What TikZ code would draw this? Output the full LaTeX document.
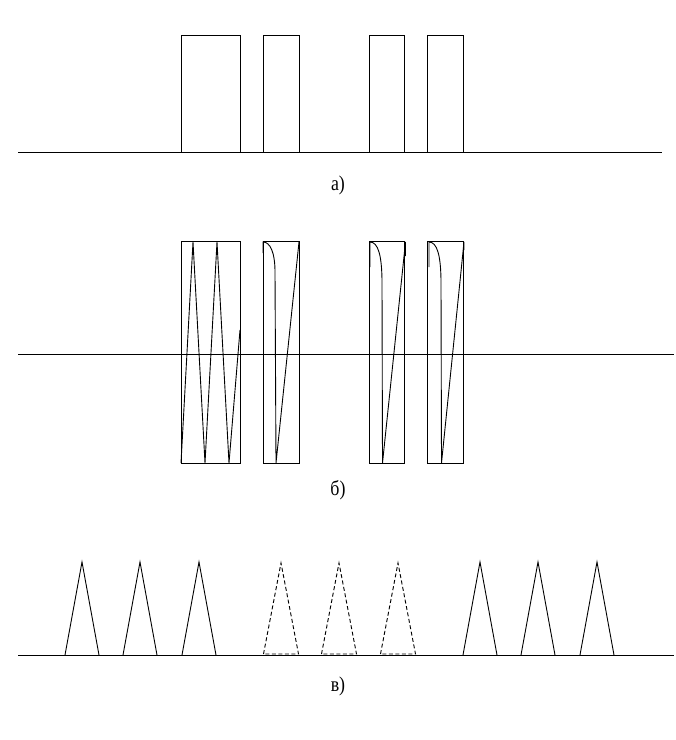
\documentclass[tikz,border=0pt]{standalone}
\usepackage{fontspec}
\newfontfamily\labelfont[FakeStretch=0.85]{Liberation Serif}
\tikzset{
	lbl/.style={font=\labelfont\fontsize{21}{21}\selectfont, inner sep=0pt},
	pulse/.style={line width=0.9pt},
	ghost/.style={line width=0.9pt, dashed, dash pattern=on 4pt off 2.5pt}
}
\begin{document}
\begin{tikzpicture}[x=1pt,y=-1pt,line width=0.9pt]
		\useasboundingbox (0,0) rectangle (676,740);
		\draw (18,152) -- (662,152);
		\foreach \l/\r in {181/240, 263/299, 369/404, 427/463}
			\draw[pulse] (\l,152) rectangle (\r,35);
		\node[lbl] at (338,185) (capa) {а)};
		\draw (18,354) -- (674,354);
		\foreach \l/\r in {181/240, 263/299, 369/404, 427/463}
			\draw[pulse] (\l,463) rectangle (\r,241);
		\draw (181,463) -- (193,242) -- (205,463) -- (217,242) -- (229,463) -- (240,330);
		\draw (263,253) -- (263,242) .. controls (270,242) and (275,252) .. (275,272) -- (276,463) -- (299,242);
		\draw (370,267) -- (370,242) .. controls (378,242) and (382,255) .. (382,283) -- (382.5,463) -- (405.5,242) -- (405.5,256);
		\draw (429,267) -- (429,242) .. controls (437,242) and (441,255) .. (441,283) -- (441.5,463) -- (464,242) -- (464,250);
		\node[lbl] at (338,490) (capb) {б)};
		\draw (18,655) -- (674,655);
		\foreach \x in {82, 140, 199, 480, 538, 597}
			\draw[pulse] (\x-17,655) -- (\x,562) -- (\x+17,655);
		\foreach \x in {281, 339, 398}
			\draw[ghost] (\x-17.5,654) -- (\x,563) -- (\x+17.5,654) -- cycle;
		\node[lbl] at (338,686) (capc) {в)};
\end{tikzpicture}
\end{document}
